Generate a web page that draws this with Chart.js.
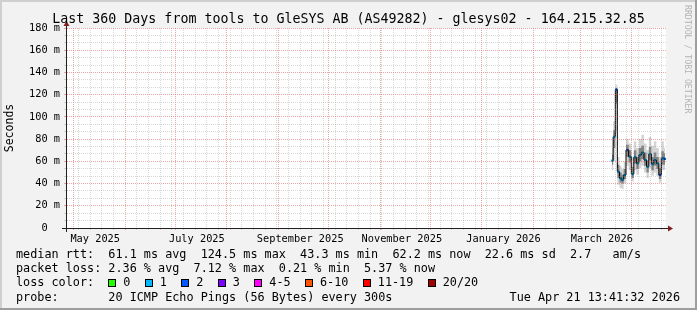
<!DOCTYPE html>
<html>
<head>
<meta charset="utf-8">
<script src="https://cdn.jsdelivr.net/npm/chart.js@4/dist/chart.umd.min.js"></script>
<style>
  html, body { margin: 0; padding: 0; background: #f2f2f2; }
  #wrap { position: relative; width: 697px; height: 310px; overflow: hidden; }
  #chart { position: absolute; left: 0; top: 0; }
  .mono { position: absolute; font-family: 'DejaVu Sans Mono', monospace; color: #000; white-space: pre; }
  #title { left: 0; width: 697px; top: 11px; text-align: center; font-size: 13.3px; line-height: 16px; }
  .row { left: 16px; font-size: 11.8px; line-height: 14px; }
  #stamp { right: 17px; left: auto; }
  #mark { left: 683px; top: 5px; font-size: 8.2px; line-height: 10px; color: #b4b4b4; writing-mode: vertical-rl; }
  .box { position: absolute; width: 8px; height: 8px; box-sizing: border-box; border: 1px solid #000; }
</style>
</head>
<body>
<div id="wrap">
  <canvas id="chart" width="697" height="310"></canvas>
  <div id="title" class="mono">Last 360 Days from tools to GleSYS AB (AS49282) - glesys02 - 164.215.32.85</div>
  <div class="mono row" style="top:247px">median rtt:  61.1 ms avg  124.5 ms max  43.3 ms min  62.2 ms now  22.6 ms sd  2.7   am/s</div>
  <div class="mono row" style="top:261px">packet loss: 2.36 % avg  7.12 % max  0.21 % min  5.37 % now</div>
  <div class="mono row" style="top:275px">loss color:</div>
  <div class="mono row" style="top:289.5px">probe:       20 ICMP Echo Pings (56 Bytes) every 300s</div>
  <div id="stamp" class="mono row" style="top:289.5px">Tue Apr 21 13:41:32 2026</div>
  <div id="mark" class="mono">RRDTOOL / TOBI OETIKER</div>
  <div id="lossRow"></div>
</div>
<script>
// time window: 360 days ending Tue Apr 21 13:41:32 2026
const START = Date.UTC(2025, 3, 26, 11, 41, 32);
const DAY = 86400000;
const SPAN_DAYS = 360;

// sample positions, days since window start
const sampleDays = [327.6, 329.0, 330.2, 331.4, 332.8, 334.0, 335.2, 336.8, 338.4, 340.0, 341.4, 343.0,
                    344.4, 346.0, 347.6, 349.0, 350.4, 352.0, 353.4, 355.0, 356.4, 358.0, 359.4];
// median rtt (ms)
const medianRtt = [60.6, 82.0, 124.5, 50.7, 44.7, 43.3, 47.7, 70.2, 64.2, 48.6, 63.6, 58.2,
                   65.7, 67.8, 61.2, 55.2, 66.6, 57.6, 61.2, 58.2, 47.7, 62.7, 62.2];
// smoke: spread of the 20 pings (ms)
const smokeMin = [52, 60, 86, 39, 36, 35, 40, 56, 52, 42, 52, 48, 54, 56, 50, 45, 54, 47, 50, 47, 41, 52, 52];
const smokeLo  = [57, 72, 112, 45, 41, 40, 44, 64, 59, 45, 58, 53, 60, 62, 56, 50, 61, 52, 56, 53, 44, 57, 57];
const smokeHi  = [66, 88, 126, 57, 50, 48, 53, 75, 70, 55, 70, 64, 72, 74, 68, 61, 73, 64, 68, 64, 54, 69, 67];
const smokeMax = [72, 96, 129, 64, 56, 53, 60, 80, 76, 64, 78, 72, 80, 84, 76, 70, 82, 74, 78, 72, 64, 78, 72];
// lost pings out of 20
const lostPings = [1, 1, 2, 1, 1, 1, 1, 2, 1, 1, 1, 1, 1, 1, 1, 1, 1, 1, 1, 1, 2, 1, 2];

// loss legend
const lossLabels = ['0', '1', '2', '3', '4-5', '6-10', '11-19', '20/20'];
const lossColors = ['#26ff00', '#00b8ff', '#0059ff', '#7e00ff', '#ff00ff', '#ff5500', '#ff0000', '#a10000'];

// axis labels
const xLabelText = ['May 2025', 'July 2025', 'September 2025', 'November 2025', 'January 2026', 'March 2026'];
const xLabelDates = ['2025-05-14', '2025-07-14', '2025-09-14', '2025-11-14', '2026-01-14', '2026-03-14'];
const yMax = 180;
const yLabelStep = 20;
const yMinorPerLabel = 3;

const GRID = 'rgba(143,143,143,0.35)';
const MGRID = 'rgba(222,79,79,0.5)';
const AXIS = '#1f1f1f';
const ARROW = '#801f1f';

function lossBucket(n) {
  if (n <= 3) return n;
  if (n <= 5) return 4;
  if (n <= 10) return 5;
  if (n <= 19) return 6;
  return 7;
}

function isMajor(v) {
  return Math.abs(v / yLabelStep - Math.round(v / yLabelStep)) < 1e-6;
}

// x ticks: sundays (minor), month starts (major), labels
function buildXTicks() {
  const ticks = [];
  for (let k = 0; k <= SPAN_DAYS + 1; k++) {
    const ms = Date.UTC(2025, 3, 26 + k);
    const d = (ms - START) / DAY;
    if (d <= 0 || d >= SPAN_DAYS) continue;
    const dt = new Date(ms);
    if (dt.getUTCDate() === 1) ticks.push({ value: d, kind: 'month' });
    else if (dt.getUTCDay() === 0) ticks.push({ value: d, kind: 'week' });
  }
  xLabelDates.forEach((s, i) => {
    ticks.push({ value: (Date.parse(s + 'T00:00:00Z') - START) / DAY, kind: 'label', text: xLabelText[i] });
  });
  ticks.sort((a, b) => a.value - b.value);
  return ticks;
}

function pts(arr) {
  return sampleDays.map((d, i) => ({ x: d, y: arr[i] }));
}

// frame, canvas background, axis arrows
const rrdFrame = {
  id: 'rrdFrame',
  beforeDraw(chart) {
    const { ctx, width, height, chartArea: a } = chart;
    ctx.save();
    ctx.fillStyle = '#f2f2f2';
    ctx.fillRect(0, 0, width, height);
    ctx.fillStyle = '#cfcfcf';
    ctx.fillRect(0, 0, width, 2);
    ctx.fillRect(0, 0, 2, height);
    ctx.fillStyle = '#9e9e9e';
    ctx.fillRect(0, height - 2, width, 2);
    ctx.fillRect(width - 2, 0, 2, height);
    ctx.fillStyle = '#ffffff';
    ctx.fillRect(a.left, a.top, a.right - a.left, a.bottom - a.top);
    ctx.restore();
  },
  afterDraw(chart) {
    const { ctx, chartArea: a } = chart;
    const x0 = Math.round(a.left) + 0.5;
    const y0 = Math.round(a.bottom) + 0.5;
    ctx.save();
    ctx.strokeStyle = AXIS;
    ctx.lineWidth = 1;
    ctx.beginPath();
    ctx.moveTo(a.left - 4, y0);
    ctx.lineTo(a.right + 4, y0);
    ctx.moveTo(x0, a.bottom + 4);
    ctx.lineTo(x0, a.top - 4);
    ctx.stroke();
    ctx.fillStyle = ARROW;
    ctx.beginPath();
    ctx.moveTo(a.right + 2, y0 - 3);
    ctx.lineTo(a.right + 2, y0 + 3);
    ctx.lineTo(a.right + 7, y0);
    ctx.closePath();
    ctx.fill();
    ctx.beginPath();
    ctx.moveTo(x0 - 3, a.top - 2);
    ctx.lineTo(x0 + 3, a.top - 2);
    ctx.lineTo(x0, a.top - 7);
    ctx.closePath();
    ctx.fill();
    ctx.restore();
  }
};

const font = { family: 'DejaVu Sans Mono', size: 10.3 };

new Chart(document.getElementById('chart'), {
  type: 'line',
  data: {
    datasets: [
      { data: pts(smokeMax), fill: '+1', backgroundColor: 'rgba(0,0,0,0.17)', borderWidth: 0, pointRadius: 0, stepped: 'middle' },
      { data: pts(smokeMin), fill: false, borderWidth: 0, pointRadius: 0, stepped: 'middle' },
      { data: pts(smokeHi), fill: '+1', backgroundColor: 'rgba(0,0,0,0.38)', borderWidth: 0, pointRadius: 0, stepped: 'middle' },
      { data: pts(smokeLo), fill: false, borderWidth: 0, pointRadius: 0, stepped: 'middle' },
      {
        data: pts(medianRtt),
        fill: false,
        borderColor: '#000',
        borderWidth: 1,
        stepped: 'middle',
        pointStyle: 'rect',
        pointRadius: 1.6,
        pointBorderWidth: 0,
        pointBackgroundColor: lostPings.map(n => lossColors[lossBucket(n)])
      }
    ]
  },
  options: {
    responsive: false,
    devicePixelRatio: 1,
    animation: false,
    layout: { padding: { top: 28, right: 31, left: 0, bottom: 0 } },
    plugins: { legend: { display: false }, tooltip: { enabled: false }, title: { display: false } },
    scales: {
      x: {
        type: 'linear',
        min: 0,
        max: SPAN_DAYS,
        afterFit: s => { s.height = 82; },
        afterBuildTicks: s => { s.ticks = buildXTicks(); },
        grid: {
          z: 1,
          lineWidth: 1,
          tickLength: 2,
          color: c => !c.tick ? GRID : c.tick.kind === 'month' ? MGRID : c.tick.kind === 'week' ? GRID : 'transparent',
          tickColor: c => !c.tick ? 'transparent' : c.tick.kind === 'month' ? MGRID : c.tick.kind === 'week' ? GRID : 'transparent'
        },
        border: { display: true, color: AXIS, width: 1, dash: [1, 1], z: 1 },
        ticks: {
          autoSkip: false,
          maxRotation: 0,
          minRotation: 0,
          padding: 3,
          color: '#000',
          font: font,
          callback: (v, i, ticks) => ticks[i].kind === 'label' ? ticks[i].text : ''
        }
      },
      y: {
        type: 'linear',
        min: 0,
        max: yMax,
        afterFit: s => { s.width = 66; },
        afterBuildTicks: s => {
          const t = [];
          const n = (yMax / yLabelStep) * yMinorPerLabel;
          for (let k = 0; k <= n; k++) t.push({ value: k * yLabelStep / yMinorPerLabel });
          s.ticks = t;
        },
        grid: {
          z: 1,
          lineWidth: 1,
          tickLength: 2,
          color: c => c.tick && isMajor(c.tick.value) ? MGRID : GRID,
          tickColor: c => c.tick && isMajor(c.tick.value) ? MGRID : GRID
        },
        border: { display: true, color: AXIS, width: 1, dash: [1, 1], z: 1 },
        title: {
          display: true,
          text: 'Seconds',
          color: '#000',
          font: { family: 'DejaVu Sans Mono', size: 11.5 },
          padding: { top: 3, bottom: 0 }
        },
        ticks: {
          autoSkip: false,
          padding: 4,
          color: '#000',
          font: font,
          callback: v => isMajor(v) ? (Math.round(v) === 0 ? '0  ' : Math.round(v) + ' m') : ''
        }
      }
    }
  },
  plugins: [rrdFrame]
});

// loss color legend row
const lossRow = document.getElementById('lossRow');
let lx = 16 + 13 * 7.1;
lossLabels.forEach((lab, i) => {
  const b = document.createElement('div');
  b.className = 'box';
  b.style.left = lx + 'px';
  b.style.top = '279px';
  b.style.background = lossColors[i];
  lossRow.appendChild(b);
  const t = document.createElement('div');
  t.className = 'mono row';
  t.style.left = (lx + 15) + 'px';
  t.style.top = '275px';
  t.textContent = lab;
  lossRow.appendChild(t);
  lx += 15 + lab.length * 7.1 + 14.4;
});
</script>
</body>
</html>
